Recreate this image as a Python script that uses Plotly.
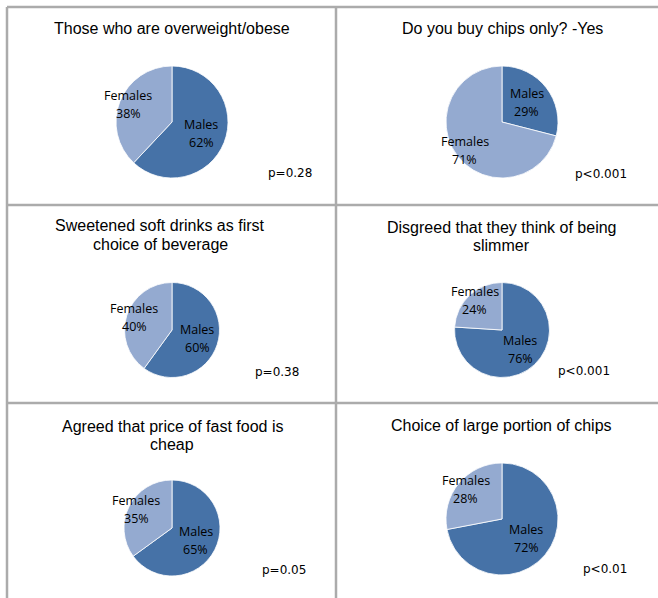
import math
import plotly.graph_objects as go

# ---------------- data ----------------
titles = [
    "Those who are overweight/obese",
    "Do you buy chips only? -Yes",
    "Sweetened soft drinks as first\nchoice of beverage",
    "Disgreed that they think of being\nslimmer",
    "Agreed that price of fast food is\ncheap",
    "Choice of large portion of chips",
]
groups = ["Males", "Females"]
males = [62, 29, 60, 76, 65, 72]
females = [38, 71, 40, 24, 35, 28]
p_values = ["p=0.28", "p<0.001", "p=0.38", "p<0.001", "p=0.05", "p<0.01"]

# ---------------- layout geometry (pixels) ----------------
W, H = 658, 598
pie_geo = [(172, 122, 56), (502, 122, 56), (172, 330, 47.5),
           (502, 330, 47.5), (172, 528, 48), (502, 519, 56)]
title_xy = [(172, 29), (502, 29), (160, 226), (501, 227), (172, 426), (501, 425)]
title_gap = 18.5
p_xy = [(290, 173), (601, 174), (277, 372), (583.5, 371), (284, 570), (604.5, 569)]
label_frac = [0.56, 0.84]
colors = ["#4672A7", "#94AAD0"]


def px(x):
    return x / W


def py(y):
    return 1 - y / H


fig = go.Figure()
annotations = []

for i in range(len(titles)):
    cx, cy, r = pie_geo[i]
    vals = [males[i], females[i]]
    fig.add_trace(go.Pie(
        labels=groups, values=vals, sort=False, direction="clockwise",
        rotation=0, textinfo="none", hoverinfo="label+percent",
        marker=dict(colors=colors, line=dict(color="white", width=0.8)),
        domain=dict(x=[px(cx - r), px(cx + r)], y=[py(cy + r), py(cy - r)]),
        showlegend=False,
    ))
    # slice labels at the slice bisector
    total = sum(vals)
    start = 0.0
    for k, v in enumerate(vals):
        mid = (start + v / 2) / total * 2 * math.pi
        start += v
        lx = cx + label_frac[k] * r * math.sin(mid)
        ly = cy - label_frac[k] * r * math.cos(mid)
        for j, txt in enumerate([groups[k], f"{round(v / total * 100)}%"]):
            annotations.append(dict(
                x=px(lx), y=py(ly - 9 + 18 * j), xref="paper", yref="paper",
                text=txt, showarrow=False, xanchor="center", yanchor="middle",
                font=dict(family="Open Sans", size=12.5, color="#000000"),
            ))
    # title
    tx, ty = title_xy[i]
    for j, line in enumerate(titles[i].split("\n")):
        annotations.append(dict(
            x=px(tx), y=py(ty + j * title_gap), xref="paper", yref="paper",
            text=line, showarrow=False, xanchor="center", yanchor="middle",
            font=dict(family="Liberation Sans, Arial", size=16, color="#000000"),
        ))
    # p value
    pxv, pyv = p_xy[i]
    annotations.append(dict(
        x=px(pxv), y=py(pyv), xref="paper", yref="paper", text=p_values[i],
        showarrow=False, xanchor="center", yanchor="middle",
        font=dict(family="DejaVu Sans", size=12, color="#000000"),
    ))

# panel frame lines
line_style = dict(color="#ABABAB", width=2.5)
shapes = []
for y in [7, 205, 403]:
    shapes.append(dict(type="line", xref="paper", yref="paper",
                       x0=px(7), x1=px(658), y0=py(y), y1=py(y), line=line_style))
for x in [7, 336]:
    shapes.append(dict(type="line", xref="paper", yref="paper",
                       x0=px(x), x1=px(x), y0=py(7), y1=py(598), line=line_style))

fig.update_layout(
    width=W, height=H, margin=dict(l=0, r=0, t=0, b=0),
    paper_bgcolor="white", plot_bgcolor="white",
    annotations=annotations, shapes=shapes,
)

fig.write_html(
    "out.html",
    config={"displayModeBar": False},
    post_script="document.body.style.margin='0';document.body.style.overflow='hidden';",
)
